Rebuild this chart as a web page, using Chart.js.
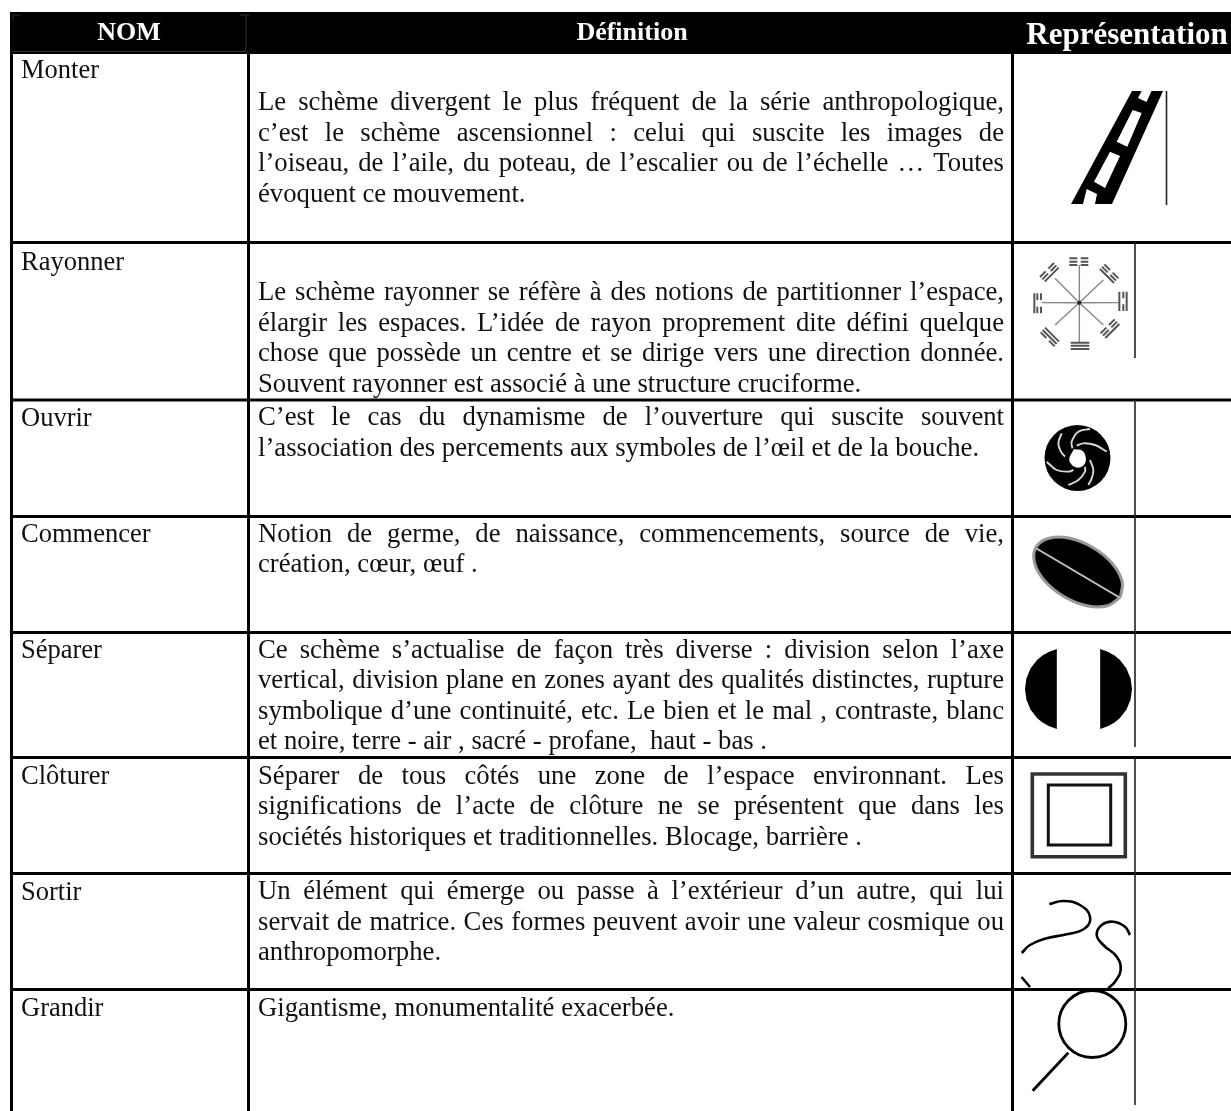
<!DOCTYPE html>
<html lang="fr">
<head>
<meta charset="utf-8">
<title>Schèmes</title>
<style>html,body{margin:0;padding:0;background:#fff}canvas{display:block}</style>
<script src="https://cdn.jsdelivr.net/npm/chart.js@4/dist/chart.umd.js"></script>
</head>
<body>
<canvas id="c" width="1231" height="1111"></canvas>
<script>
const headers = ["NOM", "Définition", "Représentation"];
const names = ["Monter","Rayonner","Ouvrir","Commencer","Séparer","Clôturer","Sortir","Grandir"];
const nameBaselines = [78,269.5,425.5,541.5,657.5,784,900,1016];
const def1 = ["Le schème divergent le plus fréquent de la série anthropologique,","c’est le schème ascensionnel : celui qui suscite les images de","l’oiseau, de l’aile, du poteau, de l’escalier ou de l’échelle … Toutes","évoquent ce mouvement."];
const def2 = ["Le schème rayonner se réfère à des notions de partitionner l’espace,","élargir les espaces. L’idée de rayon proprement dite défini quelque","chose que possède un centre et se dirige vers une direction donnée.","Souvent rayonner est associé à une structure cruciforme."];
const def3 = ["C’est le cas du dynamisme de l’ouverture qui suscite souvent","l’association des percements aux symboles de l’œil et de la bouche."];
const def4 = ["Notion de germe, de naissance, commencements, source de vie,","création, cœur, œuf ."];
const def5 = ["Ce schème s’actualise de façon très diverse : division selon l’axe","vertical, division plane en zones ayant des qualités distinctes, rupture","symbolique d’une continuité, etc. Le bien et le mal , contraste, blanc","et noire, terre - air , sacré - profane,  haut - bas ."];
const def6 = ["Séparer de tous côtés une zone de l’espace environnant. Les","significations de l’acte de clôture ne se présentent que dans les","sociétés historiques et traditionnelles. Blocage, barrière ."];
const def7 = ["Un élément qui émerge ou passe à l’extérieur d’un autre, qui lui","servait de matrice. Ces formes peuvent avoir une valeur cosmique ou","anthropomorphe."];
const def8 = ["Gigantisme, monumentalité exacerbée."];
const definitions = [def1,def2,def3,def4,def5,def6,def7,def8];
const defBaselines = [110,300,425,541.5,657.5,783.5,899,1016];

const headerBand = [[10,12],[1231,12],[1231,54],[10,54],[10,12]];
const rowRules = [242.5,400,516.5,632.5,757.5,873.5,989.5];
const colRules = [11.5,248.5,1012.5];
const thinRules = [[1166.5,91,205],[1135,243,358],[1135,400,747],[1135,759,1105]];

// pictogram outlines
const ladderBody = [[1071,204],[1112,204],[1163,91],[1132,91],[1071,204]];
const ladderHoles = [
  [[1141.7,91],[1151.5,91],[1146.5,102],[1138,98]],
  [[1132.7,110],[1141.7,113],[1127.3,146.7],[1116.7,141.7]],
  [[1110,151.7],[1120,156],[1105,188],[1094,181.7]],
  [[1086.7,189],[1097,194],[1095,204],[1083,204]]
];
const starCentre = [1079.3,302.7];
const starSpokes = [[178,60],[178,293],[65,173],[296,173],[105,100],[250,105],[105,240],[250,240]];
const starBars = [
 [[148,40],[172,40]],[[182,40],[205,40]],[[148,50],[172,50]],[[182,50],[205,50]],[[148,60],[172,60]],[[182,60],[205,60]],
 [[152,293],[208,293]],[[152,302],[208,302]],[[152,312],[208,312]],
 [[43,145],[43,205]],[[52,145],[52,165]],[[52,185],[52,205]],[[63,145],[63,165]],[[63,185],[63,205]],
 [[298,140],[298,198]],[[310,140],[310,160]],[[310,178],[310,198]],[[320,140],[320,198]],
 [[60,96],[77,79]],[[85,71],[102,54]],[[67,103],[84,86]],[[92,78],[109,61]],[[74,110],[116,68]],
 [[246,65],[263,82]],[[271,90],[288,107]],[[253,58],[270,75]],[[278,83],[295,100]],[[240,72],[282,114]],
 [[68,255],[110,297]],[[75,248],[117,290]],[[62,262],[79,279]],[[87,287],[104,304]],
 [[242,265],[259,248]],[[267,240],[284,223]],[[249,272],[266,255]],[[274,247],[291,230]],[[256,279],[298,237]]
];
const irisCentre = [1077.5,458];
const irisHub = [[116,103],[140,106],[152,125],[147,150],[122,157],[103,136],[116,103]];
const irisBlades = [
 [[80,55],[70,85],[78,110],[90,125]],
 [[165,42],[130,50],[110,80],[112,100]],
 [[215,110],[180,90],[145,85],[125,92]],
 [[165,135],[175,165],[170,190],[160,210]],
 [[100,210],[130,195],[150,170],[150,155]],
 [[35,140],[65,165],[100,170],[115,165]]
];
const bean = [[1120.5,596.9],[1107.6,605.8],[1086.8,605.7],[1063.8,596.5],[1044.6,580.8],[1034.5,562.7],[1036.1,547.1],[1049,538.2],[1069.8,538.3],[1092.8,547.5],[1112,563.2],[1122.1,581.3],[1120.5,596.9]];
const beanLine = [[1036.5,548.5],[1119.5,597.5]];
const halfLeft = [[1056.8,649.1],[1048.7,651.9],[1042.5,655.4],[1037,660],[1030.5,668.5],[1026.4,678.4],[1025,689],[1026.4,699.6],[1030.5,709.5],[1037,718],[1042.5,722.6],[1048.7,726.1],[1056.8,728.9],[1056.8,649.1]];
const halfRight = [[1100.2,649.1],[1108.3,651.9],[1114.5,655.4],[1120,660],[1126.5,668.5],[1130.6,678.4],[1132,689],[1130.6,699.6],[1126.5,709.5],[1120,718],[1114.5,722.6],[1108.3,726.1],[1100.2,728.9],[1100.2,649.1]];
const squareOuter = [[1032.3,774],[1125.3,774],[1125.3,856.7],[1032.3,856.7],[1032.3,774],[1125.3,774]];
const squareInner = [[1048.3,785],[1110.7,785],[1110.7,845],[1048.3,845],[1048.3,785],[1110.7,785]];
const curveA = [[1049.3,904],[1063.3,901],[1080,905],[1090,916.7],[1085,928.3],[1066.7,934.3],[1046.7,938.3],[1030,945],[1021.7,953]];
const curveA2 = [[1021.5,977],[1030,987]];
const curveB = [[1130,935],[1125,926.7],[1113.3,921.7],[1101.7,925],[1096.7,935],[1103.3,945],[1116.7,956.7],[1120.7,970],[1115,981.7],[1108.3,988.3]];
const lensCentre = [1092.3,1024];
const lensHandle = [[1068.3,1052.7],[1032.7,1090.7]];

const pts = a => a.map(p => ({x:p[0], y:p[1]}));
const breakUp = list => list.flatMap(s => [...pts(s), {x:null,y:null}]);
const fromZoom = (a, ox, oy) => a.map(p => [ox + p[0]/3, oy + p[1]/3]);

const line = (data, color, width, extra) => Object.assign({data, borderColor:color, borderWidth:width, backgroundColor:color, showLine:true, pointRadius:0, fill:false, spanGaps:false, tension:0, borderCapStyle:'butt', borderJoinStyle:'miter'}, extra||{});
const shape = (a, color, extra) => line(pts(a), color, 0, Object.assign({fill:'shape'}, extra||{}));
const soft = {soft:0.7};
const fine = {soft:0.45};

const drawList = [
  shape(headerBand, '#000'),
  line(pts([[12.5,51.5],[246,51.5],[246,15]]), '#2e2e2e', 1),
  line(pts([[13,21],[13,15],[20,15]]), '#2e2e2e', 1),
  line(pts([[240,15],[250,15]]), '#2e2e2e', 1),
  shape(ladderBody, '#000', soft),
  ...ladderHoles.map(h => shape([...h, h[0]], '#fff', soft)),
  line(pts(fromZoom(starSpokes, 1020, 245)).flatMap(p => [{x:starCentre[0],y:starCentre[1]}, p, {x:null,y:null}]), '#888', 1.4, fine),
  line(breakUp(starBars.map(s => fromZoom(s, 1020, 245))), '#555', 2, fine),
  line(pts([starCentre]), '#222', 0, {pointRadius:2, pointBackgroundColor:'#222', pointBorderWidth:0, showLine:false}),
  line(pts([irisCentre]), '#000', 0, {pointRadius:33, pointBackgroundColor:'#000', pointBorderWidth:0, showLine:false, soft:0.7}),
  shape(fromZoom(irisHub, 1035, 415), '#fff', Object.assign({tension:0.4}, soft)),
  ...irisBlades.map(b => line(pts(fromZoom(b, 1035, 415)), '#d8d8d8', 1.9, Object.assign({tension:0.4}, soft))),
  line(pts(bean), '#999', 3, Object.assign({tension:0.4, fill:'shape', backgroundColor:'#000'}, soft)),
  line(pts(beanLine), '#c4c4c4', 2, soft),
  shape(halfLeft, '#000', soft),
  shape(halfRight, '#000', soft),
  line(pts(squareOuter), '#333', 3.6, soft),
  line(pts(squareInner), '#111', 3, soft),
  line(pts(curveA), '#000', 2.6, Object.assign({tension:0.45}, soft)),
  line(pts(curveA2), '#000', 2.6, soft),
  line(pts(curveB), '#000', 2.6, Object.assign({tension:0.45}, soft)),
  line(pts([lensCentre]), '#000', 0, {pointRadius:33.5, pointBackgroundColor:'rgba(0,0,0,0)', pointBorderColor:'#000', pointBorderWidth:2.8, showLine:false, soft:0.7}),
  line(pts(lensHandle), '#000', 2.8, soft),
  line(breakUp(rowRules.map(y => [[10,y],[1231,y]])), '#000', 3),
  line(breakUp(colRules.map(x => [[x,54],[x,1111]])), '#000', 3),
  line(breakUp(thinRules.map(r => [[r[0],r[1]],[r[0],r[2]]])), '#222', 1.6)
];

const softPlugin = {
  id:'softEdges',
  beforeDatasetDraw(chart, args) {
    const s = chart.data.datasets[args.index].soft;
    if (s) { chart.ctx.save(); chart.ctx.filter = 'blur(' + s + 'px)'; }
  },
  afterDatasetDraw(chart, args) {
    if (chart.data.datasets[args.index].soft) chart.ctx.restore();
  }
};

const textPlugin = {
  id:'tableText',
  afterDatasetsDraw(chart) {
    const ctx = chart.ctx, X = chart.scales.x, Y = chart.scales.y;
    ctx.save();
    ctx.textBaseline = 'alphabetic';
    ctx.fillStyle = '#fff';
    ctx.textAlign = 'center';
    ctx.font = 'bold 26px "Liberation Serif"';
    ctx.fillText(headers[0], X.getPixelForValue(129), Y.getPixelForValue(40));
    ctx.fillText(headers[1], X.getPixelForValue(632), Y.getPixelForValue(40));
    ctx.font = 'bold 31px "Liberation Serif"';
    ctx.fillText(headers[2], X.getPixelForValue(1127), Y.getPixelForValue(43.5));
    ctx.textAlign = 'left';
    ctx.fillStyle = '#111';
    ctx.font = '26.5px "Liberation Serif"';
    names.forEach((n,i) => ctx.fillText(n, X.getPixelForValue(21), Y.getPixelForValue(nameBaselines[i])));
    ctx.font = '26.7px "Liberation Serif"';
    const left = 258, right = 1004, step = 30.6;
    definitions.forEach((lines,i) => lines.forEach((t,j) => {
      const last = j === lines.length-1;
      const gaps = t.split(' ').length-1;
      ctx.wordSpacing = '0px';
      const w = ctx.measureText(t).width;
      const justify = (!last || i === 2) && gaps > 0 && !(i === 2 && j === 1);
      ctx.wordSpacing = justify ? ((right-left-w)/gaps)+'px' : '0px';
      ctx.fillText(t, X.getPixelForValue(left), Y.getPixelForValue(defBaselines[i]+j*step));
    }));
    ctx.restore();
  }
};

Chart.register(softPlugin);
if (Chart.Filler) { Chart.unregister(Chart.Filler); Chart.register(Chart.Filler); }

new Chart(document.getElementById('c'), {
  type:'scatter',
  data:{datasets:drawList.slice().reverse()},
  plugins:[textPlugin],
  options:{
    responsive:false, animation:false, devicePixelRatio:1,
    layout:{padding:0, autoPadding:false},
    plugins:{legend:{display:false}, tooltip:{enabled:false}, title:{display:false}},
    scales:{
      x:{type:'linear', min:0, max:1231, display:false},
      y:{type:'linear', min:0, max:1111, reverse:true, display:false}
    }
  }
});
</script>
</body>
</html>
